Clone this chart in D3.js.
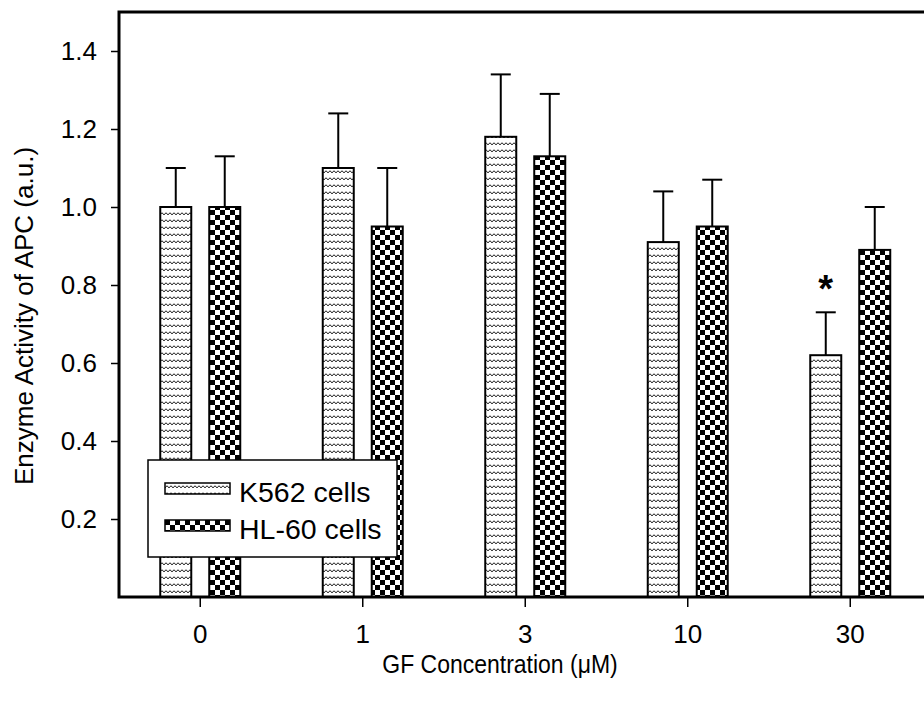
<!DOCTYPE html>
<html>
<head>
<meta charset="utf-8">
<script src="https://cdn.jsdelivr.net/npm/d3@7"></script>
<style>
  body { margin: 0; background: #fff; }
  text { font-family: "Liberation Sans", Arial, sans-serif; fill: #000; }
</style>
</head>
<body>
<div id="chart"></div>
<script>
const width = 924;
const height = 707;

// data
const concentrations = ["0", "1", "3", "10", "30"];
const seriesNames = ["K562 cells", "HL-60 cells"];
const k562Values = [1.00, 1.10, 1.18, 0.91, 0.62];
const k562Errors = [0.10, 0.14, 0.16, 0.13, 0.11];
const hl60Values = [1.00, 0.95, 1.13, 0.95, 0.89];
const hl60Errors = [0.13, 0.15, 0.16, 0.12, 0.11];
const yTicks = [0.2, 0.4, 0.6, 0.8, 1.0, 1.2, 1.4];
const significant = [{ conc: "30", series: "K562 cells", label: "*" }];

const bars = [];
concentrations.forEach((c, i) => {
  bars.push({ conc: c, series: seriesNames[0], value: k562Values[i], err: k562Errors[i] });
  bars.push({ conc: c, series: seriesNames[1], value: hl60Values[i], err: hl60Errors[i] });
});

const svg = d3.select("#chart")
  .append("svg")
  .attr("width", width)
  .attr("height", height);

const plotLeft = 119, plotTop = 12, plotBottom = 597;
const groupStep = 162.5;

const x = d3.scaleBand()
  .domain(concentrations)
  .range([plotLeft, plotLeft + groupStep * concentrations.length])
  .padding(0);

const xInner = d3.scaleBand()
  .domain(seriesNames)
  .range([-40, 40])
  .paddingInner(0.367)
  .paddingOuter(0);

const y = d3.scaleLinear()
  .domain([0, 1.5])
  .range([plotBottom, plotTop]);

// patterns
const defs = svg.append("defs");

const wave = defs.append("pattern")
  .attr("id", "wave")
  .attr("patternUnits", "userSpaceOnUse")
  .attr("width", 8)
  .attr("height", 7);
wave.append("rect").attr("width", 8).attr("height", 7).attr("fill", "#fff");
wave.append("path")
  .attr("d", "M0,5 Q2,1 4,5 Q6,1 8,5")
  .attr("fill", "none")
  .attr("stroke", "#222")
  .attr("stroke-width", 1);

const checker = defs.append("pattern")
  .attr("id", "checker")
  .attr("patternUnits", "userSpaceOnUse")
  .attr("width", 10)
  .attr("height", 10);
checker.append("rect").attr("width", 10).attr("height", 10).attr("fill", "#fff");
checker.append("rect").attr("width", 5).attr("height", 5).attr("fill", "#000");
checker.append("rect").attr("x", 5).attr("y", 5).attr("width", 5).attr("height", 5).attr("fill", "#000");

const fillFor = s => s === seriesNames[0] ? "url(#wave)" : "url(#checker)";

// bars
svg.selectAll(".bar")
  .data(bars)
  .enter()
  .append("rect")
  .attr("class", "bar")
  .attr("x", d => x(d.conc) + x.bandwidth() / 2 + xInner(d.series))
  .attr("y", d => y(d.value))
  .attr("width", xInner.bandwidth())
  .attr("height", d => y(0) - y(d.value))
  .attr("fill", d => fillFor(d.series))
  .attr("stroke", "#000")
  .attr("stroke-width", 2);

// error bars (upper only)
const cx = d => x(d.conc) + x.bandwidth() / 2 + xInner(d.series) + xInner.bandwidth() / 2;

svg.selectAll(".err")
  .data(bars)
  .enter()
  .append("line")
  .attr("x1", cx).attr("x2", cx)
  .attr("y1", d => y(d.value))
  .attr("y2", d => y(d.value + d.err))
  .attr("stroke", "#000")
  .attr("stroke-width", 2);

svg.selectAll(".cap")
  .data(bars)
  .enter()
  .append("line")
  .attr("x1", d => cx(d) - 10).attr("x2", d => cx(d) + 10)
  .attr("y1", d => y(d.value + d.err))
  .attr("y2", d => y(d.value + d.err))
  .attr("stroke", "#000")
  .attr("stroke-width", 2);

// significance mark
svg.selectAll(".sig")
  .data(significant)
  .enter()
  .append("text")
  .attr("x", d => x(d.conc) + x.bandwidth() / 2 + xInner(d.series) + xInner.bandwidth() / 2)
  .attr("y", d => {
    const b = bars.find(b => b.conc === d.conc && b.series === d.series);
    return y(b.value + b.err) - 10;
  })
  .attr("text-anchor", "middle")
  .style("font-size", "38px")
  .style("font-weight", "bold")
  .text(d => d.label);

// axes
const yAxis = svg.append("g")
  .attr("transform", `translate(${plotLeft},0)`)
  .call(d3.axisLeft(y).tickValues(yTicks).tickFormat(d3.format(".1f")).tickSize(8).tickPadding(14));
yAxis.select(".domain").remove();
yAxis.selectAll("line").attr("stroke-width", 1.5);
yAxis.selectAll("text").style("font-size", "26px").attr("font-family", null);

const xAxis = svg.append("g")
  .attr("transform", `translate(0,${plotBottom})`)
  .call(d3.axisBottom(x).tickSize(10).tickPadding(18));
xAxis.select(".domain").remove();
xAxis.selectAll("line").attr("stroke-width", 1.5);
xAxis.selectAll("text").style("font-size", "26px").attr("font-family", null);

// frame
svg.append("rect")
  .attr("x", plotLeft)
  .attr("y", plotTop)
  .attr("width", groupStep * concentrations.length)
  .attr("height", plotBottom - plotTop)
  .attr("fill", "none")
  .attr("stroke", "#000")
  .attr("stroke-width", 3);

// axis titles
svg.append("text")
  .attr("transform", "translate(500,673) scale(1,1.15)")
  .attr("text-anchor", "middle")
  .style("font-size", "23px")
  .text("GF Concentration (\u03bcM)");

svg.append("text")
  .attr("transform", "translate(33,316) rotate(-90)")
  .attr("text-anchor", "middle")
  .style("font-size", "26px")
  .text("Enzyme Activity of APC (a.u.)");

// legend
const legend = svg.append("g").attr("transform", "translate(148,460)");
legend.append("rect")
  .attr("width", 249)
  .attr("height", 97)
  .attr("fill", "#fff")
  .attr("stroke", "#000")
  .attr("stroke-width", 1.5);

const items = legend.selectAll(".item")
  .data(seriesNames)
  .enter()
  .append("g")
  .attr("transform", (d, i) => `translate(17,${23 + i * 37})`);
items.append("rect")
  .attr("width", 65)
  .attr("height", 11)
  .attr("fill", d => fillFor(d))
  .attr("stroke", "#000")
  .attr("stroke-width", 1.5);
items.append("text")
  .attr("x", 74)
  .attr("y", 19)
  .style("font-size", "28.5px")
  .text(d => d);
</script>
</body>
</html>
